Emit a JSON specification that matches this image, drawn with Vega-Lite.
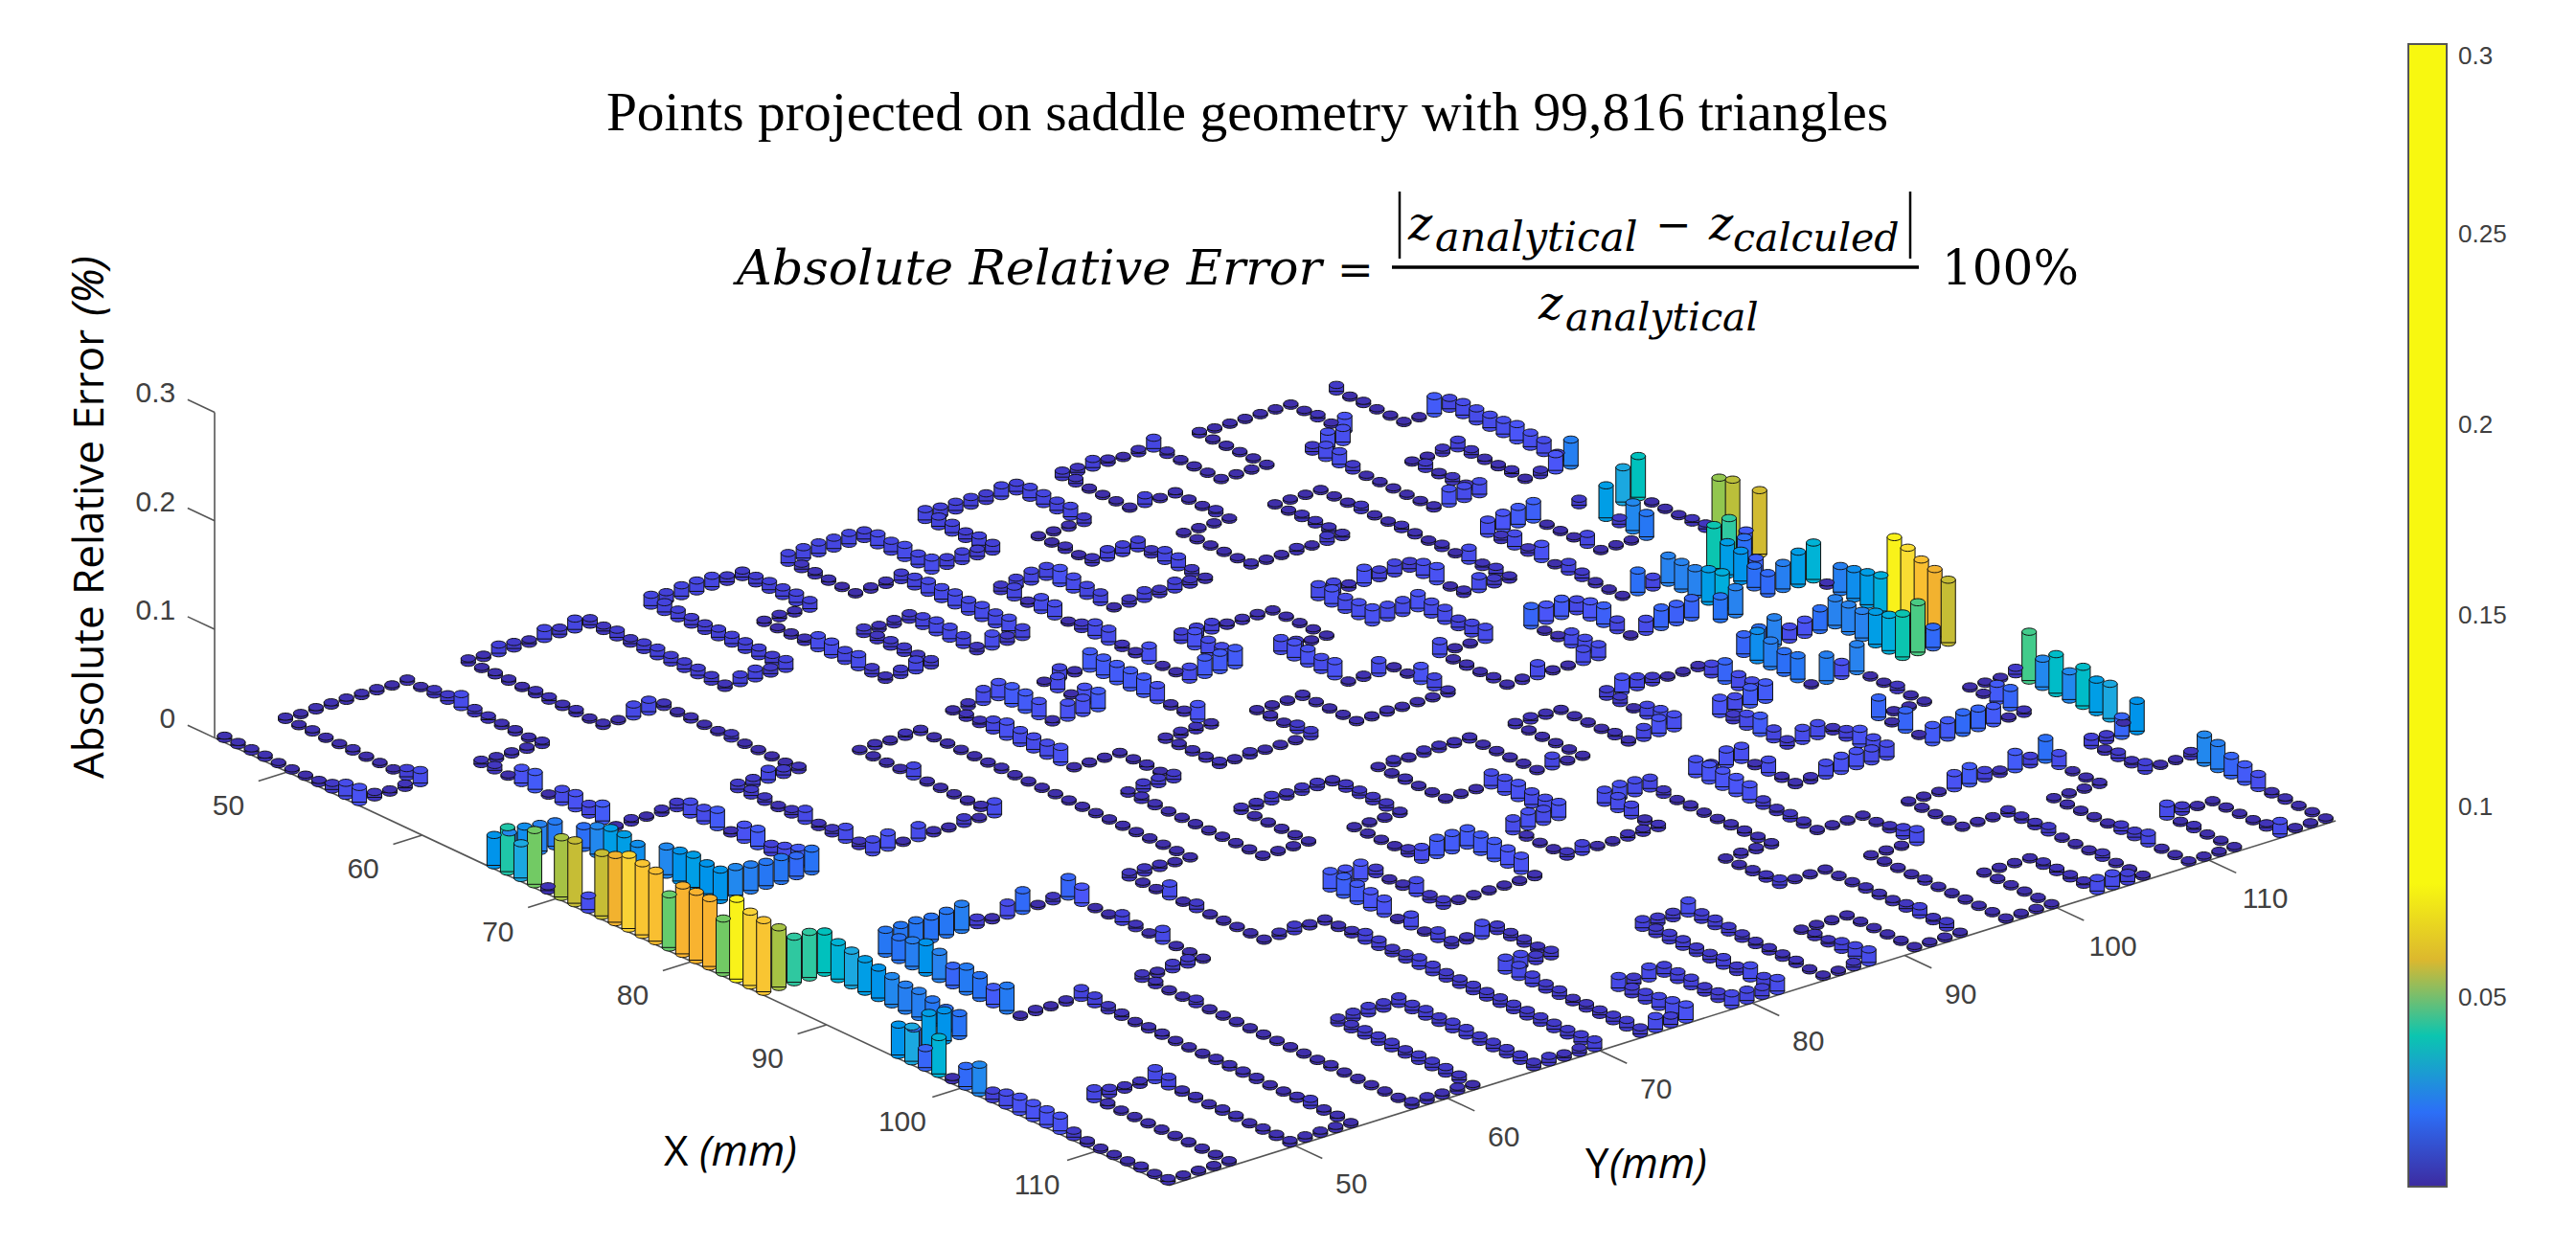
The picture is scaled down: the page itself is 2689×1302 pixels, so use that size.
{"$schema":"https://vega.github.io/schema/vega-lite/v6.json","width":2689,"height":1302,"padding":0,"autosize":{"type":"fit","contains":"padding"},"background":"white","config":{"view":{"stroke":null}},
"datasets":{
"frame":[
{"x":44.6,"y":41.7,"z":0,"x2":115.4,"y2":41.7,"z2":0},{"x":115.4,"y":41.7,"z":0,"x2":115.4,"y2":118.3,"z2":0},{"x":44.6,"y":41.7,"z":0,"x2":44.6,"y2":41.7,"z2":0.3},
{"x":50,"y":41.7,"z":0,"x2":50,"y2":39.8,"z2":0},{"x":60,"y":41.7,"z":0,"x2":60,"y2":39.8,"z2":0},{"x":70,"y":41.7,"z":0,"x2":70,"y2":39.8,"z2":0},{"x":80,"y":41.7,"z":0,"x2":80,"y2":39.8,"z2":0},{"x":90,"y":41.7,"z":0,"x2":90,"y2":39.8,"z2":0},{"x":100,"y":41.7,"z":0,"x2":100,"y2":39.8,"z2":0},{"x":110,"y":41.7,"z":0,"x2":110,"y2":39.8,"z2":0},
{"x":115.4,"y":50,"z":0,"x2":117.4,"y2":50,"z2":0},{"x":115.4,"y":60,"z":0,"x2":117.4,"y2":60,"z2":0},{"x":115.4,"y":70,"z":0,"x2":117.4,"y2":70,"z2":0},{"x":115.4,"y":80,"z":0,"x2":117.4,"y2":80,"z2":0},{"x":115.4,"y":90,"z":0,"x2":117.4,"y2":90,"z2":0},{"x":115.4,"y":100,"z":0,"x2":117.4,"y2":100,"z2":0},{"x":115.4,"y":110,"z":0,"x2":117.4,"y2":110,"z2":0},
{"x":44.6,"y":41.7,"z":0,"x2":42.6,"y2":41.7,"z2":0},{"x":44.6,"y":41.7,"z":0.1,"x2":42.6,"y2":41.7,"z2":0.1},{"x":44.6,"y":41.7,"z":0.2,"x2":42.6,"y2":41.7,"z2":0.2},{"x":44.6,"y":41.7,"z":0.3,"x2":42.6,"y2":41.7,"z2":0.3}],
"labels":[
{"x":51.5,"y":36.5,"z":0,"t":"50"},{"x":61.5,"y":36.5,"z":0,"t":"60"},{"x":71.5,"y":36.5,"z":0,"t":"70"},{"x":81.5,"y":36.5,"z":0,"t":"80"},{"x":91.5,"y":36.5,"z":0,"t":"90"},{"x":101.5,"y":36.5,"z":0,"t":"100"},{"x":111.5,"y":36.5,"z":0,"t":"110"},
{"x":120.8,"y":48.9,"z":0,"t":"50"},{"x":120.8,"y":58.9,"z":0,"t":"60"},{"x":120.8,"y":68.9,"z":0,"t":"70"},{"x":120.8,"y":78.9,"z":0,"t":"80"},{"x":120.8,"y":88.9,"z":0,"t":"90"},{"x":120.8,"y":98.9,"z":0,"t":"100"},{"x":120.8,"y":108.9,"z":0,"t":"110"}],
"zlabels":[{"x":41.7,"y":41.7,"z":0,"t":"0"},{"x":41.7,"y":41.7,"z":0.1,"t":"0.1"},{"x":41.7,"y":41.7,"z":0.2,"t":"0.2"},{"x":41.7,"y":41.7,"z":0.3,"t":"0.3"}],
"pts":[
{"x":45,"y":42,"z":0.003},{"x":46,"y":42,"z":0.003},{"x":47,"y":42,"z":0.003},{"x":48,"y":42,"z":0.003},{"x":49,"y":42,"z":0.002},{"x":50,"y":42,"z":0.002},{"x":51,"y":42,"z":0.002},{"x":52,"y":42,"z":0.003},{"x":53,"y":42,"z":0.006},{"x":54,"y":42,"z":0.012},{"x":55,"y":42,"z":0.014},
{"x":55,"y":43,"z":0.005},{"x":55,"y":44,"z":0.003},{"x":55,"y":45,"z":0.004},{"x":55,"y":46,"z":0.012},
{"x":54,"y":46,"z":0.008},{"x":53,"y":46,"z":0.002},{"x":52,"y":46,"z":0.002},{"x":51,"y":46,"z":0.002},{"x":50,"y":46,"z":0.003},{"x":49,"y":46,"z":0.002},{"x":48,"y":46,"z":0.002},{"x":47,"y":46,"z":0.003},{"x":46,"y":46,"z":0.002},{"x":45,"y":46,"z":0.003},
{"x":45,"y":47,"z":0.002},{"x":45,"y":48,"z":0.003},{"x":45,"y":49,"z":0.003},{"x":45,"y":50,"z":0.003},{"x":45,"y":51,"z":0.003},{"x":45,"y":52,"z":0.003},{"x":45,"y":53,"z":0.002},{"x":45,"y":54,"z":0.003},
{"x":46,"y":54,"z":0.002},{"x":47,"y":54,"z":0.005},{"x":48,"y":54,"z":0.006},{"x":49,"y":54,"z":0.012},{"x":50,"y":54,"z":0.005},{"x":51,"y":54,"z":0.004},{"x":52,"y":54,"z":0.003},{"x":53,"y":54,"z":0.003},{"x":54,"y":54,"z":0.002},{"x":55,"y":54,"z":0.004},
{"x":55,"y":53,"z":0.003},{"x":55,"y":52,"z":0.003},{"x":55,"y":51,"z":0.003},{"x":55,"y":50,"z":0.004},
{"x":56,"y":50,"z":0.005},{"x":57,"y":50,"z":0.002},{"x":58,"y":50,"z":0.014},{"x":59,"y":50,"z":0.016},{"x":60,"y":50,"z":0.002},{"x":61,"y":50,"z":0.012},{"x":62,"y":50,"z":0.014},{"x":63,"y":50,"z":0.01},{"x":64,"y":50,"z":0.016},{"x":65,"y":50,"z":0.002},
{"x":65,"y":51,"z":0.004},{"x":65,"y":52,"z":0.002},{"x":65,"y":53,"z":0.004},{"x":65,"y":54,"z":0.006},
{"x":66,"y":54,"z":0.012},{"x":67,"y":54,"z":0.012},{"x":68,"y":54,"z":0.016},{"x":69,"y":54,"z":0.003},{"x":70,"y":54,"z":0.014},{"x":71,"y":54,"z":0.016},{"x":72,"y":54,"z":0.008},{"x":73,"y":54,"z":0.012},{"x":74,"y":54,"z":0.016},{"x":75,"y":54,"z":0.021},
{"x":75,"y":53,"z":0.019},{"x":75,"y":52,"z":0.022},{"x":75,"y":51,"z":0.022},{"x":75,"y":50,"z":0.024},{"x":75,"y":49,"z":0.026},{"x":75,"y":48,"z":0.028},
{"x":74,"y":48,"z":0.028},{"x":73,"y":48,"z":0.03},{"x":72,"y":48,"z":0.028},{"x":71,"y":48,"z":0.026},{"x":70,"y":47,"z":0.027},{"x":69,"y":47,"z":0.03},{"x":68,"y":47,"z":0.03},{"x":67,"y":47,"z":0.026},{"x":66,"y":47,"z":0.02},
{"x":65,"y":46,"z":0.023},{"x":65,"y":45,"z":0.025},{"x":65,"y":44,"z":0.027},{"x":65,"y":43,"z":0.026},
{"x":65,"y":42,"z":0.028},{"x":66,"y":42,"z":0.041},{"x":67,"y":42,"z":0.032},{"x":68,"y":42,"z":0.05},{"x":69,"y":42,"z":0.004},{"x":70,"y":42,"z":0.055},{"x":71,"y":42,"z":0.058},{"x":72,"y":42,"z":0.013},{"x":73,"y":42,"z":0.058},{"x":74,"y":42,"z":0.062},{"x":75,"y":42,"z":0.068},{"x":76,"y":42,"z":0.066},{"x":77,"y":42,"z":0.065},{"x":78,"y":42,"z":0.049},{"x":79,"y":42,"z":0.063},{"x":80,"y":42,"z":0.063},{"x":81,"y":42,"z":0.063},{"x":82,"y":42,"z":0.05},{"x":83,"y":42,"z":0.074},{"x":84,"y":42,"z":0.068},{"x":85,"y":42,"z":0.066},
{"x":85,"y":43,"z":0.055},{"x":85,"y":44,"z":0.042},{"x":85,"y":45,"z":0.042},{"x":85,"y":46,"z":0.038},
{"x":86,"y":46,"z":0.034},{"x":87,"y":46,"z":0.032},{"x":88,"y":46,"z":0.03},{"x":89,"y":46,"z":0.028},{"x":90,"y":46,"z":0.026},{"x":91,"y":46,"z":0.024},{"x":92,"y":46,"z":0.024},{"x":93,"y":46,"z":0.022},{"x":94,"y":46,"z":0.02},{"x":95,"y":46,"z":0.021},
{"x":95,"y":45,"z":0.028},{"x":95,"y":44,"z":0.03},{"x":95,"y":43,"z":0.02},{"x":95,"y":42,"z":0.028},{"x":96,"y":42,"z":0.032},{"x":97,"y":42,"z":0.018},{"x":98,"y":42,"z":0.034},{"x":99,"y":42,"z":0.003},{"x":100,"y":42,"z":0.019},{"x":101,"y":42,"z":0.026},{"x":102,"y":42,"z":0.008},{"x":103,"y":42,"z":0.012},{"x":104,"y":42,"z":0.014},{"x":105,"y":42,"z":0.014},{"x":106,"y":42,"z":0.014},{"x":107,"y":42,"z":0.014},{"x":108,"y":42,"z":0.006},{"x":109,"y":42,"z":0.003},{"x":110,"y":42,"z":0.002},{"x":111,"y":42,"z":0.002},{"x":112,"y":42,"z":0.002},{"x":113,"y":42,"z":0.003},{"x":114,"y":42,"z":0.002},{"x":115,"y":42,"z":0.003},
{"x":115,"y":43,"z":0.002},{"x":115,"y":44,"z":0.002},{"x":115,"y":45,"z":0.002},{"x":115,"y":46,"z":0.002},
{"x":114,"y":46,"z":0.002},{"x":113,"y":46,"z":0.002},{"x":112,"y":46,"z":0.002},{"x":111,"y":46,"z":0.002},{"x":110,"y":46,"z":0.002},{"x":109,"y":46,"z":0.002},{"x":108,"y":46,"z":0.002},{"x":107,"y":46,"z":0.002},{"x":106,"y":46,"z":0.003},{"x":105,"y":46,"z":0.01},
{"x":105,"y":47,"z":0.006},{"x":105,"y":48,"z":0.004},{"x":105,"y":49,"z":0.004},{"x":105,"y":50,"z":0.011},
{"x":106,"y":50,"z":0.009},{"x":107,"y":50,"z":0.003},{"x":108,"y":50,"z":0.003},{"x":109,"y":50,"z":0.002},{"x":110,"y":50,"z":0.003},{"x":111,"y":50,"z":0.003},{"x":112,"y":50,"z":0.002},{"x":113,"y":50,"z":0.003},{"x":114,"y":50,"z":0.003},{"x":115,"y":50,"z":0.003},
{"x":115,"y":51,"z":0.003},{"x":115,"y":52,"z":0.003},{"x":115,"y":53,"z":0.003},{"x":115,"y":54,"z":0.002},
{"x":114,"y":54,"z":0.003},{"x":113,"y":54,"z":0.003},{"x":112,"y":54,"z":0.006},{"x":111,"y":54,"z":0.003},{"x":110,"y":54,"z":0.002},{"x":109,"y":54,"z":0.002},{"x":108,"y":54,"z":0.003},{"x":107,"y":54,"z":0.003},{"x":106,"y":54,"z":0.003},{"x":105,"y":54,"z":0.003},{"x":104,"y":54,"z":0.002},{"x":103,"y":54,"z":0.002},{"x":102,"y":54,"z":0.002},{"x":101,"y":54,"z":0.003},{"x":100,"y":54,"z":0.003},{"x":99,"y":54,"z":0.002},{"x":98,"y":54,"z":0.004},{"x":97,"y":54,"z":0.005},{"x":96,"y":54,"z":0.008},{"x":95,"y":54,"z":0.009},
{"x":95,"y":53,"z":0.003},{"x":95,"y":52,"z":0.002},{"x":95,"y":51,"z":0.003},{"x":95,"y":50,"z":0.002},
{"x":94,"y":50,"z":0.023},{"x":93,"y":50,"z":0.016},{"x":92,"y":50,"z":0.021},{"x":91,"y":50,"z":0.023},{"x":90,"y":50,"z":0.018},{"x":89,"y":50,"z":0.025},{"x":88,"y":50,"z":0.028},{"x":87,"y":50,"z":0.024},{"x":86,"y":50,"z":0.021},{"x":85,"y":50,"z":0.022},
{"x":85,"y":51,"z":0.022},{"x":85,"y":52,"z":0.022},{"x":85,"y":53,"z":0.021},{"x":85,"y":54,"z":0.022},{"x":85,"y":55,"z":0.024},{"x":85,"y":56,"z":0.007},{"x":85,"y":57,"z":0.003},{"x":85,"y":58,"z":0.012},{"x":85,"y":59,"z":0.019},{"x":85,"y":60,"z":0.002},{"x":85,"y":61,"z":0.005},{"x":85,"y":62,"z":0.018},
{"x":86,"y":62,"z":0.015},{"x":87,"y":62,"z":0.002},{"x":88,"y":62,"z":0.002},{"x":89,"y":62,"z":0.008},{"x":90,"y":62,"z":0.004},{"x":91,"y":62,"z":0.002},{"x":92,"y":62,"z":0.011},{"x":93,"y":62,"z":0.002},{"x":94,"y":62,"z":0.002},{"x":95,"y":62,"z":0.002},
{"x":95,"y":61,"z":0.006},{"x":95,"y":60,"z":0.006},{"x":95,"y":59,"z":0.003},{"x":95,"y":58,"z":0.005},
{"x":96,"y":58,"z":0.004},{"x":97,"y":58,"z":0.002},{"x":98,"y":58,"z":0.002},{"x":99,"y":58,"z":0.005},{"x":100,"y":58,"z":0.002},{"x":101,"y":58,"z":0.002},{"x":102,"y":58,"z":0.002},{"x":103,"y":58,"z":0.002},{"x":104,"y":58,"z":0.002},{"x":105,"y":58,"z":0.002},{"x":106,"y":58,"z":0.002},{"x":107,"y":58,"z":0.002},{"x":108,"y":58,"z":0.002},{"x":109,"y":58,"z":0.003},{"x":110,"y":58,"z":0.002},{"x":111,"y":58,"z":0.002},{"x":112,"y":58,"z":0.002},{"x":113,"y":58,"z":0.002},{"x":114,"y":58,"z":0.002},{"x":115,"y":58,"z":0.004},
{"x":115,"y":59,"z":0.004},{"x":115,"y":60,"z":0.003},{"x":115,"y":61,"z":0.004},{"x":115,"y":62,"z":0.002},
{"x":114,"y":62,"z":0.005},{"x":113,"y":62,"z":0.006},{"x":112,"y":62,"z":0.006},{"x":111,"y":62,"z":0.006},{"x":110,"y":62,"z":0.005},{"x":109,"y":62,"z":0.006},{"x":108,"y":62,"z":0.006},{"x":107,"y":62,"z":0.006},{"x":106,"y":62,"z":0.005},{"x":105,"y":62,"z":0.005},
{"x":105,"y":63,"z":0.006},{"x":105,"y":64,"z":0.007},{"x":105,"y":65,"z":0.006},{"x":105,"y":66,"z":0.007},
{"x":106,"y":66,"z":0.006},{"x":107,"y":66,"z":0.007},{"x":108,"y":66,"z":0.006},{"x":109,"y":66,"z":0.007},{"x":110,"y":66,"z":0.007},{"x":111,"y":66,"z":0.006},{"x":112,"y":66,"z":0.006},{"x":113,"y":66,"z":0.006},{"x":114,"y":66,"z":0.006},{"x":115,"y":66,"z":0.005},
{"x":115,"y":67,"z":0.006},{"x":115,"y":68,"z":0.004},{"x":115,"y":69,"z":0.005},{"x":115,"y":70,"z":0.008},
{"x":114,"y":70,"z":0.007},{"x":113,"y":70,"z":0.006},{"x":112,"y":70,"z":0.006},{"x":111,"y":70,"z":0.006},{"x":110,"y":70,"z":0.006},{"x":109,"y":70,"z":0.006},{"x":108,"y":70,"z":0.006},{"x":107,"y":70,"z":0.006},{"x":106,"y":70,"z":0.006},{"x":105,"y":70,"z":0.006},{"x":104,"y":70,"z":0.006},{"x":103,"y":70,"z":0.007},{"x":102,"y":70,"z":0.008},{"x":101,"y":70,"z":0.006},{"x":100,"y":70,"z":0.005},{"x":99,"y":70,"z":0.007},{"x":98,"y":70,"z":0.008},{"x":97,"y":70,"z":0.004},{"x":96,"y":70,"z":0.003},{"x":95,"y":70,"z":0.003},
{"x":95,"y":69,"z":0.003},{"x":95,"y":68,"z":0.006},{"x":95,"y":67,"z":0.004},{"x":95,"y":66,"z":0.002},
{"x":94,"y":66,"z":0.002},{"x":93,"y":66,"z":0.002},{"x":92,"y":66,"z":0.002},{"x":91,"y":66,"z":0.002},{"x":90,"y":66,"z":0.006},{"x":89,"y":66,"z":0.002},{"x":88,"y":66,"z":0.012},{"x":87,"y":66,"z":0.002},{"x":86,"y":66,"z":0.002},{"x":85,"y":66,"z":0.005},
{"x":85,"y":67,"z":0.005},{"x":85,"y":68,"z":0.004},{"x":85,"y":69,"z":0.002},{"x":85,"y":70,"z":0.002},
{"x":84,"y":70,"z":0.002},{"x":83,"y":70,"z":0.002},{"x":82,"y":70,"z":0.002},{"x":81,"y":70,"z":0.002},{"x":80,"y":70,"z":0.002},{"x":79,"y":70,"z":0.002},{"x":78,"y":70,"z":0.002},{"x":77,"y":70,"z":0.002},{"x":76,"y":70,"z":0.002},{"x":75,"y":70,"z":0.002},{"x":74,"y":70,"z":0.002},{"x":73,"y":70,"z":0.002},{"x":72,"y":70,"z":0.002},{"x":71,"y":70,"z":0.003},{"x":70,"y":70,"z":0.002},{"x":69,"y":70,"z":0.002},{"x":68,"y":70,"z":0.002},{"x":67,"y":70,"z":0.002},{"x":66,"y":70,"z":0.002},{"x":65,"y":70,"z":0.003},
{"x":65,"y":69,"z":0.004},{"x":65,"y":68,"z":0.002},{"x":65,"y":67,"z":0.003},{"x":65,"y":66,"z":0.002},
{"x":66,"y":66,"z":0.002},{"x":67,"y":66,"z":0.002},{"x":68,"y":66,"z":0.002},{"x":69,"y":66,"z":0.01},{"x":70,"y":66,"z":0.002},{"x":71,"y":66,"z":0.002},{"x":72,"y":66,"z":0.002},{"x":73,"y":66,"z":0.002},{"x":74,"y":66,"z":0.003},{"x":75,"y":66,"z":0.012},
{"x":75,"y":65,"z":0.002},{"x":75,"y":64,"z":0.006},{"x":75,"y":63,"z":0.002},{"x":75,"y":62,"z":0.003},{"x":75,"y":61,"z":0.012},{"x":75,"y":60,"z":0.002},{"x":75,"y":59,"z":0.014},{"x":75,"y":58,"z":0.012},
{"x":74,"y":58,"z":0.005},{"x":73,"y":58,"z":0.012},{"x":72,"y":58,"z":0.005},{"x":71,"y":58,"z":0.004},{"x":70,"y":58,"z":0.011},{"x":69,"y":58,"z":0.005},{"x":68,"y":58,"z":0.003},{"x":67,"y":58,"z":0.005},{"x":66,"y":58,"z":0.006},{"x":65,"y":58,"z":0.006},
{"x":65,"y":59,"z":0.006},{"x":65,"y":60,"z":0.01},{"x":65,"y":61,"z":0.006},{"x":65,"y":62,"z":0.004},
{"x":64,"y":62,"z":0.002},{"x":63,"y":62,"z":0.002},{"x":62,"y":62,"z":0.002},{"x":61,"y":62,"z":0.002},{"x":60,"y":62,"z":0.005},{"x":59,"y":62,"z":0.002},{"x":58,"y":62,"z":0.002},{"x":57,"y":62,"z":0.003},{"x":56,"y":62,"z":0.002},{"x":55,"y":62,"z":0.004},
{"x":55,"y":61,"z":0.011},{"x":55,"y":60,"z":0.011},{"x":55,"y":59,"z":0.002},{"x":55,"y":58,"z":0.003},
{"x":54,"y":58,"z":0.002},{"x":53,"y":58,"z":0.004},{"x":52,"y":58,"z":0.003},{"x":51,"y":58,"z":0.004},{"x":50,"y":58,"z":0.004},{"x":49,"y":58,"z":0.002},{"x":48,"y":58,"z":0.003},{"x":47,"y":58,"z":0.003},{"x":46,"y":58,"z":0.002},{"x":45,"y":58,"z":0.004},
{"x":45,"y":59,"z":0.003},{"x":45,"y":60,"z":0.008},{"x":45,"y":61,"z":0.006},{"x":45,"y":62,"z":0.004},{"x":45,"y":63,"z":0.01},{"x":45,"y":64,"z":0.006},{"x":45,"y":65,"z":0.01},{"x":45,"y":66,"z":0.006},
{"x":46,"y":66,"z":0.005},{"x":47,"y":66,"z":0.007},{"x":48,"y":66,"z":0.005},{"x":49,"y":66,"z":0.007},{"x":50,"y":66,"z":0.008},{"x":51,"y":66,"z":0.007},{"x":52,"y":66,"z":0.007},{"x":53,"y":66,"z":0.007},{"x":54,"y":66,"z":0.006},{"x":55,"y":66,"z":0.004},
{"x":55,"y":67,"z":0.008},{"x":55,"y":68,"z":0.009},{"x":55,"y":69,"z":0.006},{"x":55,"y":70,"z":0.009},
{"x":54,"y":70,"z":0.007},{"x":53,"y":70,"z":0.008},{"x":52,"y":70,"z":0.008},{"x":51,"y":70,"z":0.008},{"x":50,"y":70,"z":0.008},{"x":49,"y":70,"z":0.007},{"x":48,"y":70,"z":0.007},{"x":47,"y":70,"z":0.008},{"x":46,"y":70,"z":0.009},{"x":45,"y":70,"z":0.01},
{"x":45,"y":71,"z":0.008},{"x":45,"y":72,"z":0.01},{"x":45,"y":73,"z":0.01},{"x":45,"y":74,"z":0.01},{"x":45,"y":75,"z":0.006},{"x":45,"y":76,"z":0.006},
{"x":46,"y":76,"z":0.007},{"x":47,"y":76,"z":0.008},{"x":48,"y":76,"z":0.008},{"x":49,"y":76,"z":0.009},{"x":50,"y":76,"z":0.008},
{"x":50,"y":75,"z":0.003},{"x":50,"y":74,"z":0.004},{"x":50,"y":73,"z":0.003},
{"x":51,"y":73,"z":0.002},{"x":52,"y":73,"z":0.003},{"x":53,"y":73,"z":0.004},{"x":54,"y":73,"z":0.012},{"x":55,"y":73,"z":0.012},{"x":56,"y":73,"z":0.01},{"x":57,"y":73,"z":0.012},{"x":58,"y":73,"z":0.006},{"x":59,"y":73,"z":0.004},
{"x":59,"y":74,"z":0.006},{"x":59,"y":75,"z":0.01},{"x":59,"y":76,"z":0.006},
{"x":58,"y":76,"z":0.005},{"x":57,"y":76,"z":0.006},{"x":56,"y":76,"z":0.006},{"x":55,"y":76,"z":0.005},{"x":54,"y":76,"z":0.006},
{"x":54,"y":77,"z":0.004},{"x":54,"y":78,"z":0.005},{"x":54,"y":79,"z":0.006},
{"x":55,"y":79,"z":0.009},{"x":56,"y":79,"z":0.011},{"x":57,"y":79,"z":0.011},{"x":58,"y":79,"z":0.009},{"x":59,"y":79,"z":0.005},
{"x":59,"y":80,"z":0.012},{"x":59,"y":81,"z":0.006},{"x":59,"y":82,"z":0.009},
{"x":58,"y":82,"z":0.012},{"x":57,"y":82,"z":0.011},{"x":56,"y":82,"z":0.012},{"x":55,"y":82,"z":0.011},{"x":54,"y":82,"z":0.012},{"x":53,"y":82,"z":0.011},{"x":52,"y":82,"z":0.011},{"x":51,"y":82,"z":0.009},{"x":50,"y":82,"z":0.007},
{"x":50,"y":81,"z":0.004},{"x":50,"y":80,"z":0.003},{"x":50,"y":79,"z":0.002},
{"x":49,"y":79,"z":0.002},{"x":48,"y":79,"z":0.003},{"x":47,"y":79,"z":0.004},{"x":46,"y":79,"z":0.005},{"x":45,"y":79,"z":0.009},
{"x":45,"y":80,"z":0.01},{"x":45,"y":81,"z":0.01},{"x":45,"y":82,"z":0.01},{"x":45,"y":83,"z":0.01},{"x":45,"y":84,"z":0.008},
{"x":46,"y":84,"z":0.011},{"x":47,"y":84,"z":0.01},{"x":48,"y":84,"z":0.012},{"x":49,"y":84,"z":0.01},{"x":50,"y":84,"z":0.012},
{"x":50,"y":85,"z":0.008},{"x":50,"y":86,"z":0.009},{"x":50,"y":87,"z":0.007},{"x":50,"y":88,"z":0.008},
{"x":49,"y":88,"z":0.009},{"x":48,"y":88,"z":0.007},{"x":47,"y":88,"z":0.009},{"x":46,"y":88,"z":0.009},{"x":45,"y":88,"z":0.01},
{"x":45,"y":89,"z":0.008},{"x":45,"y":90,"z":0.008},{"x":45,"y":91,"z":0.008},{"x":45,"y":92,"z":0.007},{"x":45,"y":93,"z":0.01},{"x":45,"y":94,"z":0.008},
{"x":46,"y":94,"z":0.01},{"x":47,"y":94,"z":0.01},{"x":48,"y":94,"z":0.009},{"x":49,"y":94,"z":0.01},{"x":50,"y":94,"z":0.006},
{"x":50,"y":93,"z":0.003},{"x":50,"y":92,"z":0.002},{"x":50,"y":91,"z":0.002},
{"x":51,"y":91,"z":0.002},{"x":52,"y":91,"z":0.004},{"x":53,"y":91,"z":0.002},{"x":54,"y":91,"z":0.005},
{"x":54,"y":92,"z":0.008},{"x":54,"y":93,"z":0.008},{"x":54,"y":94,"z":0.008},
{"x":55,"y":94,"z":0.005},{"x":56,"y":94,"z":0.01},{"x":57,"y":94,"z":0.01},{"x":58,"y":94,"z":0.005},{"x":59,"y":94,"z":0.003},
{"x":59,"y":93,"z":0.005},{"x":59,"y":92,"z":0.008},{"x":59,"y":91,"z":0.005},{"x":59,"y":90,"z":0.008},{"x":59,"y":89,"z":0.005},{"x":59,"y":88,"z":0.002},
{"x":58,"y":88,"z":0.009},{"x":57,"y":88,"z":0.01},{"x":56,"y":88,"z":0.012},{"x":55,"y":88,"z":0.014},{"x":54,"y":88,"z":0.01},
{"x":54,"y":87,"z":0.01},{"x":54,"y":86,"z":0.008},{"x":54,"y":85,"z":0.006},
{"x":55,"y":85,"z":0.01},{"x":56,"y":85,"z":0.003},{"x":57,"y":85,"z":0.012},{"x":58,"y":85,"z":0.012},{"x":59,"y":85,"z":0.002},{"x":60,"y":85,"z":0.006},{"x":61,"y":85,"z":0.012},{"x":62,"y":85,"z":0.012},{"x":63,"y":85,"z":0.004},{"x":64,"y":85,"z":0.003},{"x":65,"y":85,"z":0.014},{"x":66,"y":85,"z":0.002},{"x":67,"y":85,"z":0.002},{"x":68,"y":85,"z":0.012},
{"x":68,"y":86,"z":0.016},{"x":68,"y":87,"z":0.016},{"x":68,"y":88,"z":0.016},
{"x":67,"y":88,"z":0.012},{"x":66,"y":88,"z":0.012},{"x":65,"y":88,"z":0.014},{"x":64,"y":88,"z":0.008},
{"x":64,"y":89,"z":0.008},{"x":64,"y":90,"z":0.008},{"x":64,"y":91,"z":0.003},{"x":64,"y":92,"z":0.003},{"x":64,"y":93,"z":0.003},{"x":64,"y":94,"z":0.002},
{"x":65,"y":94,"z":0.002},{"x":66,"y":94,"z":0.002},{"x":67,"y":94,"z":0.002},{"x":68,"y":94,"z":0.002},
{"x":68,"y":93,"z":0.002},{"x":68,"y":92,"z":0.006},{"x":68,"y":91,"z":0.012},
{"x":69,"y":91,"z":0.014},{"x":70,"y":91,"z":0.014},{"x":71,"y":91,"z":0.012},{"x":72,"y":91,"z":0.014},{"x":73,"y":91,"z":0.002},
{"x":73,"y":92,"z":0.003},{"x":73,"y":93,"z":0.012},{"x":73,"y":94,"z":0.002},
{"x":74,"y":94,"z":0.002},{"x":75,"y":94,"z":0.014},{"x":76,"y":94,"z":0.01},{"x":77,"y":94,"z":0.004},
{"x":77,"y":93,"z":0.002},{"x":77,"y":92,"z":0.002},{"x":77,"y":91,"z":0.002},{"x":77,"y":90,"z":0.003},{"x":77,"y":89,"z":0.002},{"x":77,"y":88,"z":0.002},
{"x":76,"y":88,"z":0.002},{"x":75,"y":88,"z":0.002},{"x":74,"y":88,"z":0.002},{"x":73,"y":88,"z":0.003},
{"x":73,"y":87,"z":0.002},{"x":73,"y":86,"z":0.002},{"x":73,"y":85,"z":0.002},
{"x":74,"y":85,"z":0.003},{"x":75,"y":85,"z":0.002},{"x":76,"y":85,"z":0.006},{"x":77,"y":85,"z":0.006},
{"x":77,"y":84,"z":0.002},{"x":77,"y":83,"z":0.002},{"x":77,"y":82,"z":0.002},{"x":77,"y":81,"z":0.004},{"x":77,"y":80,"z":0.002},{"x":77,"y":79,"z":0.004},
{"x":76,"y":79,"z":0.003},{"x":75,"y":79,"z":0.003},{"x":74,"y":79,"z":0.003},{"x":73,"y":79,"z":0.003},
{"x":73,"y":80,"z":0.004},{"x":73,"y":81,"z":0.004},{"x":73,"y":82,"z":0.003},
{"x":72,"y":82,"z":0.014},{"x":71,"y":82,"z":0.003},{"x":70,"y":82,"z":0.003},{"x":69,"y":82,"z":0.014},{"x":68,"y":82,"z":0.016},{"x":67,"y":82,"z":0.016},{"x":66,"y":82,"z":0.016},{"x":65,"y":82,"z":0.016},{"x":64,"y":82,"z":0.016},
{"x":64,"y":81,"z":0.003},{"x":64,"y":80,"z":0.01},{"x":64,"y":79,"z":0.002},
{"x":65,"y":79,"z":0.012},{"x":66,"y":79,"z":0.002},{"x":67,"y":79,"z":0.014},{"x":68,"y":79,"z":0.016},
{"x":68,"y":78,"z":0.014},{"x":68,"y":77,"z":0.014},{"x":68,"y":76,"z":0.003},
{"x":67,"y":76,"z":0.014},{"x":66,"y":76,"z":0.016},{"x":65,"y":76,"z":0.016},{"x":64,"y":76,"z":0.014},
{"x":64,"y":75,"z":0.012},{"x":64,"y":74,"z":0.004},{"x":64,"y":73,"z":0.002},
{"x":65,"y":73,"z":0.004},{"x":66,"y":73,"z":0.004},{"x":67,"y":73,"z":0.01},{"x":68,"y":73,"z":0.014},{"x":69,"y":73,"z":0.012},{"x":70,"y":73,"z":0.012},{"x":71,"y":73,"z":0.012},{"x":72,"y":73,"z":0.014},{"x":73,"y":73,"z":0.002},
{"x":73,"y":74,"z":0.002},{"x":73,"y":75,"z":0.002},{"x":73,"y":76,"z":0.002},
{"x":74,"y":76,"z":0.002},{"x":75,"y":76,"z":0.003},{"x":76,"y":76,"z":0.002},{"x":77,"y":76,"z":0.006},
{"x":77,"y":75,"z":0.006},{"x":77,"y":74,"z":0.006},{"x":77,"y":73,"z":0.003},
{"x":78,"y":73,"z":0.004},{"x":79,"y":73,"z":0.003},{"x":80,"y":73,"z":0.002},{"x":81,"y":73,"z":0.002},{"x":82,"y":73,"z":0.002},{"x":83,"y":73,"z":0.002},{"x":84,"y":73,"z":0.002},{"x":85,"y":73,"z":0.002},{"x":86,"y":73,"z":0.002},{"x":87,"y":73,"z":0.002},
{"x":87,"y":74,"z":0.002},{"x":87,"y":75,"z":0.002},{"x":87,"y":76,"z":0.002},
{"x":86,"y":76,"z":0.002},{"x":85,"y":76,"z":0.002},{"x":84,"y":76,"z":0.002},{"x":83,"y":76,"z":0.002},{"x":82,"y":76,"z":0.004},
{"x":82,"y":77,"z":0.004},{"x":82,"y":78,"z":0.006},{"x":82,"y":79,"z":0.004},{"x":82,"y":80,"z":0.005},{"x":82,"y":81,"z":0.005},{"x":82,"y":82,"z":0.003},
{"x":83,"y":82,"z":0.005},{"x":84,"y":82,"z":0.005},{"x":85,"y":82,"z":0.005},{"x":86,"y":82,"z":0.005},{"x":87,"y":82,"z":0.003},
{"x":87,"y":81,"z":0.002},{"x":87,"y":80,"z":0.002},{"x":87,"y":79,"z":0.002},
{"x":88,"y":79,"z":0.002},{"x":89,"y":79,"z":0.002},{"x":90,"y":79,"z":0.002},{"x":91,"y":79,"z":0.005},{"x":92,"y":79,"z":0.012},
{"x":92,"y":80,"z":0.016},{"x":92,"y":81,"z":0.016},{"x":92,"y":82,"z":0.016},
{"x":93,"y":82,"z":0.016},{"x":94,"y":82,"z":0.016},{"x":95,"y":82,"z":0.015},{"x":96,"y":82,"z":0.014},{"x":97,"y":82,"z":0.003},
{"x":97,"y":81,"z":0.002},{"x":97,"y":80,"z":0.002},{"x":97,"y":79,"z":0.002},{"x":97,"y":78,"z":0.002},{"x":97,"y":77,"z":0.002},{"x":97,"y":76,"z":0.006},
{"x":96,"y":76,"z":0.005},{"x":95,"y":76,"z":0.012},{"x":94,"y":76,"z":0.003},{"x":93,"y":76,"z":0.002},{"x":92,"y":76,"z":0.006},
{"x":92,"y":75,"z":0.015},{"x":92,"y":74,"z":0.014},{"x":92,"y":73,"z":0.016},
{"x":93,"y":73,"z":0.017},{"x":94,"y":73,"z":0.016},{"x":95,"y":73,"z":0.015},{"x":96,"y":73,"z":0.014},{"x":97,"y":73,"z":0.002},{"x":98,"y":73,"z":0.011},{"x":99,"y":73,"z":0.002},{"x":100,"y":73,"z":0.008},{"x":101,"y":73,"z":0.005},
{"x":101,"y":74,"z":0.004},{"x":101,"y":75,"z":0.012},{"x":101,"y":76,"z":0.006},
{"x":102,"y":76,"z":0.005},{"x":103,"y":76,"z":0.005},{"x":104,"y":76,"z":0.004},{"x":105,"y":76,"z":0.006},
{"x":105,"y":75,"z":0.006},{"x":105,"y":74,"z":0.011},{"x":105,"y":73,"z":0.012},
{"x":106,"y":73,"z":0.011},{"x":107,"y":73,"z":0.008},{"x":108,"y":73,"z":0.006},{"x":109,"y":73,"z":0.006},{"x":110,"y":73,"z":0.004},{"x":111,"y":73,"z":0.005},{"x":112,"y":73,"z":0.005},{"x":113,"y":73,"z":0.006},{"x":114,"y":73,"z":0.007},{"x":115,"y":73,"z":0.006},
{"x":115,"y":74,"z":0.012},{"x":115,"y":75,"z":0.008},{"x":115,"y":76,"z":0.014},
{"x":114,"y":76,"z":0.012},{"x":113,"y":76,"z":0.01},{"x":112,"y":76,"z":0.008},{"x":111,"y":76,"z":0.007},{"x":110,"y":76,"z":0.011},
{"x":110,"y":77,"z":0.006},{"x":110,"y":78,"z":0.011},{"x":110,"y":79,"z":0.008},
{"x":111,"y":79,"z":0.008},{"x":112,"y":79,"z":0.008},{"x":113,"y":79,"z":0.006},{"x":114,"y":79,"z":0.007},{"x":115,"y":79,"z":0.011},
{"x":115,"y":80,"z":0.01},{"x":115,"y":81,"z":0.008},{"x":115,"y":82,"z":0.012},
{"x":114,"y":82,"z":0.008},{"x":113,"y":82,"z":0.012},{"x":112,"y":82,"z":0.006},{"x":111,"y":82,"z":0.008},{"x":110,"y":82,"z":0.006},{"x":109,"y":82,"z":0.006},{"x":108,"y":82,"z":0.007},{"x":107,"y":82,"z":0.007},{"x":106,"y":82,"z":0.006},{"x":105,"y":82,"z":0.008},
{"x":105,"y":83,"z":0.006},{"x":105,"y":84,"z":0.006},{"x":105,"y":85,"z":0.012},
{"x":106,"y":85,"z":0.007},{"x":107,"y":85,"z":0.007},{"x":108,"y":85,"z":0.006},{"x":109,"y":85,"z":0.005},{"x":110,"y":85,"z":0.004},{"x":111,"y":85,"z":0.004},{"x":112,"y":85,"z":0.004},{"x":113,"y":85,"z":0.004},{"x":114,"y":85,"z":0.002},{"x":115,"y":85,"z":0.002},
{"x":115,"y":86,"z":0.002},{"x":115,"y":87,"z":0.005},{"x":115,"y":88,"z":0.012},
{"x":114,"y":88,"z":0.01},{"x":113,"y":88,"z":0.008},{"x":112,"y":88,"z":0.004},{"x":111,"y":88,"z":0.004},{"x":110,"y":88,"z":0.002},
{"x":110,"y":89,"z":0.002},{"x":110,"y":90,"z":0.002},{"x":110,"y":91,"z":0.002},
{"x":111,"y":91,"z":0.002},{"x":112,"y":91,"z":0.002},{"x":113,"y":91,"z":0.002},{"x":114,"y":91,"z":0.002},{"x":115,"y":91,"z":0.002},
{"x":115,"y":92,"z":0.002},{"x":115,"y":93,"z":0.002},{"x":115,"y":94,"z":0.002},
{"x":114,"y":94,"z":0.006},{"x":113,"y":94,"z":0.004},{"x":112,"y":94,"z":0.008},{"x":111,"y":94,"z":0.005},{"x":110,"y":94,"z":0.003},{"x":109,"y":94,"z":0.003},{"x":108,"y":94,"z":0.003},{"x":107,"y":94,"z":0.002},{"x":106,"y":94,"z":0.002},{"x":105,"y":94,"z":0.002},
{"x":105,"y":93,"z":0.002},{"x":105,"y":92,"z":0.002},{"x":105,"y":91,"z":0.006},
{"x":104,"y":91,"z":0.004},{"x":103,"y":91,"z":0.003},{"x":102,"y":91,"z":0.002},{"x":101,"y":91,"z":0.002},
{"x":101,"y":92,"z":0.003},{"x":101,"y":93,"z":0.003},{"x":101,"y":94,"z":0.003},
{"x":100,"y":94,"z":0.003},{"x":99,"y":94,"z":0.003},{"x":98,"y":94,"z":0.003},{"x":97,"y":94,"z":0.002},{"x":96,"y":94,"z":0.002},{"x":95,"y":94,"z":0.003},{"x":94,"y":94,"z":0.002},{"x":93,"y":94,"z":0.005},{"x":92,"y":94,"z":0.01},
{"x":92,"y":93,"z":0.012},{"x":92,"y":92,"z":0.013},{"x":92,"y":91,"z":0.012},
{"x":93,"y":91,"z":0.012},{"x":94,"y":91,"z":0.01},{"x":95,"y":91,"z":0.003},{"x":96,"y":91,"z":0.004},
{"x":96,"y":90,"z":0.004},{"x":96,"y":89,"z":0.004},{"x":96,"y":88,"z":0.002},{"x":96,"y":87,"z":0.002},{"x":96,"y":86,"z":0.008},{"x":96,"y":85,"z":0.005},
{"x":95,"y":85,"z":0.002},{"x":94,"y":85,"z":0.002},{"x":93,"y":85,"z":0.003},{"x":92,"y":85,"z":0.012},
{"x":92,"y":86,"z":0.014},{"x":92,"y":87,"z":0.012},{"x":92,"y":88,"z":0.014},
{"x":91,"y":88,"z":0.012},{"x":90,"y":88,"z":0.012},{"x":89,"y":88,"z":0.014},{"x":88,"y":88,"z":0.013},{"x":87,"y":88,"z":0.012},
{"x":87,"y":87,"z":0.002},{"x":87,"y":86,"z":0.002},{"x":87,"y":85,"z":0.002},
{"x":86,"y":85,"z":0.002},{"x":85,"y":85,"z":0.002},{"x":84,"y":85,"z":0.003},{"x":83,"y":85,"z":0.002},{"x":82,"y":85,"z":0.002},
{"x":82,"y":86,"z":0.004},{"x":82,"y":87,"z":0.002},{"x":82,"y":88,"z":0.004},{"x":82,"y":89,"z":0.004},{"x":82,"y":90,"z":0.003},{"x":82,"y":91,"z":0.003},
{"x":83,"y":91,"z":0.002},{"x":84,"y":91,"z":0.002},{"x":85,"y":91,"z":0.002},{"x":86,"y":91,"z":0.002},{"x":87,"y":91,"z":0.002},
{"x":87,"y":92,"z":0.01},{"x":87,"y":93,"z":0.002},{"x":87,"y":94,"z":0.002},
{"x":86,"y":94,"z":0.002},{"x":85,"y":94,"z":0.002},{"x":84,"y":94,"z":0.002},{"x":83,"y":94,"z":0.002},{"x":82,"y":94,"z":0.003},
{"x":82,"y":95,"z":0.004},{"x":82,"y":96,"z":0.003},{"x":82,"y":97,"z":0.002},
{"x":83,"y":97,"z":0.002},{"x":84,"y":97,"z":0.002},{"x":85,"y":97,"z":0.002},{"x":86,"y":97,"z":0.004},{"x":87,"y":97,"z":0.003},
{"x":87,"y":98,"z":0.01},{"x":87,"y":99,"z":0.014},{"x":87,"y":100,"z":0.013},
{"x":86,"y":100,"z":0.012},{"x":85,"y":100,"z":0.01},{"x":84,"y":100,"z":0.002},{"x":83,"y":100,"z":0.006},{"x":82,"y":100,"z":0.007},
{"x":82,"y":101,"z":0.014},{"x":82,"y":102,"z":0.01},{"x":82,"y":103,"z":0.006},{"x":82,"y":104,"z":0.002},{"x":82,"y":105,"z":0.002},{"x":82,"y":106,"z":0.003},
{"x":83,"y":106,"z":0.01},{"x":84,"y":106,"z":0.018},{"x":85,"y":106,"z":0.012},{"x":86,"y":106,"z":0.012},{"x":87,"y":106,"z":0.016},
{"x":87,"y":105,"z":0.016},{"x":87,"y":104,"z":0.012},{"x":87,"y":103,"z":0.015},
{"x":88,"y":103,"z":0.006},{"x":89,"y":103,"z":0.012},{"x":90,"y":103,"z":0.016},{"x":91,"y":103,"z":0.01},{"x":92,"y":103,"z":0.006},
{"x":92,"y":104,"z":0.012},{"x":92,"y":105,"z":0.012},{"x":92,"y":106,"z":0.004},
{"x":93,"y":106,"z":0.008},{"x":94,"y":106,"z":0.014},{"x":95,"y":106,"z":0.012},{"x":96,"y":106,"z":0.012},
{"x":96,"y":105,"z":0.012},{"x":96,"y":104,"z":0.014},{"x":96,"y":103,"z":0.014},{"x":96,"y":102,"z":0.012},{"x":96,"y":101,"z":0.004},{"x":96,"y":100,"z":0.003},
{"x":95,"y":100,"z":0.003},{"x":94,"y":100,"z":0.012},{"x":93,"y":100,"z":0.003},{"x":92,"y":100,"z":0.013},
{"x":92,"y":99,"z":0.014},{"x":92,"y":98,"z":0.006},{"x":92,"y":97,"z":0.014},
{"x":93,"y":97,"z":0.015},{"x":94,"y":97,"z":0.015},{"x":95,"y":97,"z":0.015},{"x":96,"y":97,"z":0.014},{"x":97,"y":97,"z":0.006},{"x":98,"y":97,"z":0.004},{"x":99,"y":97,"z":0.005},{"x":100,"y":97,"z":0.004},{"x":101,"y":97,"z":0.002},
{"x":101,"y":98,"z":0.002},{"x":101,"y":99,"z":0.002},{"x":101,"y":100,"z":0.002},
{"x":102,"y":100,"z":0.002},{"x":103,"y":100,"z":0.004},{"x":104,"y":100,"z":0.008},{"x":105,"y":100,"z":0.012},
{"x":105,"y":99,"z":0.002},{"x":105,"y":98,"z":0.002},{"x":105,"y":97,"z":0.002},
{"x":106,"y":97,"z":0.002},{"x":107,"y":97,"z":0.002},{"x":108,"y":97,"z":0.002},{"x":109,"y":97,"z":0.003},{"x":110,"y":97,"z":0.002},{"x":111,"y":97,"z":0.002},{"x":112,"y":97,"z":0.002},{"x":113,"y":97,"z":0.002},{"x":114,"y":97,"z":0.002},{"x":115,"y":97,"z":0.002},
{"x":115,"y":98,"z":0.002},{"x":115,"y":99,"z":0.002},{"x":115,"y":100,"z":0.002},
{"x":114,"y":100,"z":0.002},{"x":113,"y":100,"z":0.002},{"x":112,"y":100,"z":0.002},{"x":111,"y":100,"z":0.002},{"x":110,"y":100,"z":0.002},
{"x":110,"y":101,"z":0.002},{"x":110,"y":102,"z":0.002},{"x":110,"y":103,"z":0.002},
{"x":111,"y":103,"z":0.004},{"x":112,"y":103,"z":0.004},{"x":113,"y":103,"z":0.004},{"x":114,"y":103,"z":0.004},{"x":115,"y":103,"z":0.012},
{"x":115,"y":104,"z":0.012},{"x":115,"y":105,"z":0.008},{"x":115,"y":106,"z":0.002},
{"x":114,"y":106,"z":0.002},{"x":113,"y":106,"z":0.002},{"x":112,"y":106,"z":0.005},{"x":111,"y":106,"z":0.002},{"x":110,"y":106,"z":0.002},{"x":109,"y":106,"z":0.002},{"x":108,"y":106,"z":0.006},{"x":107,"y":106,"z":0.004},{"x":106,"y":106,"z":0.004},{"x":105,"y":106,"z":0.004},
{"x":105,"y":105,"z":0.002},{"x":105,"y":104,"z":0.002},{"x":105,"y":103,"z":0.002},
{"x":104,"y":103,"z":0.002},{"x":103,"y":103,"z":0.002},{"x":102,"y":103,"z":0.002},{"x":101,"y":103,"z":0.002},
{"x":101,"y":104,"z":0.002},{"x":101,"y":105,"z":0.002},{"x":101,"y":106,"z":0.014},{"x":101,"y":107,"z":0.016},{"x":101,"y":108,"z":0.008},{"x":101,"y":109,"z":0.004},{"x":101,"y":110,"z":0.016},{"x":101,"y":111,"z":0.008},{"x":101,"y":112,"z":0.02},
{"x":102,"y":112,"z":0.012},{"x":103,"y":112,"z":0.002},{"x":104,"y":112,"z":0.002},{"x":105,"y":112,"z":0.003},
{"x":105,"y":111,"z":0.002},{"x":105,"y":110,"z":0.002},{"x":105,"y":109,"z":0.002},
{"x":106,"y":109,"z":0.002},{"x":107,"y":109,"z":0.002},{"x":108,"y":109,"z":0.002},{"x":109,"y":109,"z":0.002},{"x":110,"y":109,"z":0.006},{"x":111,"y":109,"z":0.006},{"x":112,"y":109,"z":0.01},{"x":113,"y":109,"z":0.002},{"x":114,"y":109,"z":0.002},{"x":115,"y":109,"z":0.002},
{"x":115,"y":110,"z":0.002},{"x":115,"y":111,"z":0.002},{"x":115,"y":112,"z":0.002},
{"x":114,"y":112,"z":0.002},{"x":113,"y":112,"z":0.002},{"x":112,"y":112,"z":0.004},{"x":111,"y":112,"z":0.002},{"x":110,"y":112,"z":0.012},
{"x":110,"y":113,"z":0.006},{"x":110,"y":114,"z":0.002},{"x":110,"y":115,"z":0.002},
{"x":111,"y":115,"z":0.002},{"x":112,"y":115,"z":0.002},{"x":113,"y":115,"z":0.002},{"x":114,"y":115,"z":0.004},{"x":115,"y":115,"z":0.012},
{"x":115,"y":116,"z":0.002},{"x":115,"y":117,"z":0.002},{"x":115,"y":118,"z":0.002},
{"x":114,"y":118,"z":0.002},{"x":113,"y":118,"z":0.002},{"x":112,"y":118,"z":0.003},{"x":111,"y":118,"z":0.003},{"x":110,"y":118,"z":0.013},{"x":109,"y":118,"z":0.016},{"x":108,"y":118,"z":0.018},{"x":107,"y":118,"z":0.024},{"x":106,"y":118,"z":0.026},{"x":105,"y":118,"z":0.005},
{"x":105,"y":117,"z":0.002},{"x":105,"y":116,"z":0.002},{"x":105,"y":115,"z":0.008},
{"x":104,"y":115,"z":0.004},{"x":103,"y":115,"z":0.006},{"x":102,"y":115,"z":0.003},{"x":101,"y":115,"z":0.008},
{"x":101,"y":116,"z":0.006},{"x":101,"y":117,"z":0.018},{"x":101,"y":118,"z":0.028},
{"x":100,"y":118,"z":0.002},{"x":99,"y":118,"z":0.032},{"x":98,"y":118,"z":0.03},{"x":97,"y":118,"z":0.036},{"x":96,"y":118,"z":0.026},{"x":95,"y":118,"z":0.036},{"x":94,"y":118,"z":0.026},{"x":93,"y":118,"z":0.045},{"x":92,"y":118,"z":0.006},
{"x":92,"y":117,"z":0.002},{"x":92,"y":116,"z":0.002},{"x":92,"y":115,"z":0.002},
{"x":93,"y":115,"z":0.002},{"x":94,"y":115,"z":0.016},{"x":95,"y":115,"z":0.018},{"x":96,"y":115,"z":0.004},
{"x":96,"y":114,"z":0.002},{"x":96,"y":113,"z":0.016},{"x":96,"y":112,"z":0.018},{"x":96,"y":111,"z":0.019},{"x":96,"y":110,"z":0.016},{"x":96,"y":109,"z":0.016},
{"x":95,"y":109,"z":0.002},{"x":94,"y":109,"z":0.018},{"x":93,"y":109,"z":0.002},{"x":92,"y":109,"z":0.018},
{"x":92,"y":110,"z":0.002},{"x":92,"y":111,"z":0.002},{"x":92,"y":112,"z":0.002},
{"x":91,"y":112,"z":0.002},{"x":90,"y":112,"z":0.005},{"x":89,"y":112,"z":0.002},{"x":88,"y":112,"z":0.002},
{"x":87,"y":112,"z":0.025},{"x":87,"y":111,"z":0.013},{"x":87,"y":110,"z":0.024},{"x":87,"y":109,"z":0.002},
{"x":86,"y":109,"z":0.022},{"x":85,"y":109,"z":0.02},{"x":84,"y":109,"z":0.024},{"x":83,"y":109,"z":0.027},{"x":82,"y":109,"z":0.018},
{"x":82,"y":110,"z":0.02},{"x":82,"y":111,"z":0.025},{"x":82,"y":112,"z":0.012},{"x":82,"y":113,"z":0.014},{"x":82,"y":114,"z":0.02},{"x":82,"y":115,"z":0.025},
{"x":83,"y":115,"z":0.025},{"x":84,"y":115,"z":0.025},{"x":85,"y":115,"z":0.03},{"x":86,"y":115,"z":0.033},{"x":87,"y":115,"z":0.04},
{"x":87,"y":116,"z":0.046},{"x":87,"y":117,"z":0.019},{"x":87,"y":118,"z":0.058},
{"x":86,"y":118,"z":0.062},{"x":85,"y":118,"z":0.065},{"x":84,"y":118,"z":0.07},{"x":83,"y":118,"z":0.074},{"x":82,"y":118,"z":0.033},{"x":81,"y":118,"z":0.03},{"x":80,"y":118,"z":0.027},{"x":79,"y":118,"z":0.024},{"x":78,"y":118,"z":0.003},
{"x":77,"y":118,"z":0.034},{"x":77,"y":117,"z":0.03},{"x":77,"y":116,"z":0.024},{"x":77,"y":115,"z":0.019},
{"x":76,"y":115,"z":0.02},{"x":75,"y":116,"z":0.017},{"x":75,"y":115,"z":0.028},{"x":74,"y":115,"z":0.03},{"x":73,"y":115,"z":0.04},{"x":73,"y":116,"z":0.042},{"x":73,"y":117,"z":0.02},{"x":73,"y":118,"z":0.059},
{"x":72,"y":118,"z":0.016},{"x":71,"y":118,"z":0.057},{"x":70,"y":118,"z":0.053},{"x":69,"y":118,"z":0.005},{"x":68,"y":118,"z":0.004},{"x":67,"y":118,"z":0.002},{"x":66,"y":118,"z":0.002},{"x":65,"y":118,"z":0.002},
{"x":64,"y":118,"z":0.038},{"x":64,"y":117,"z":0.032},{"x":63,"y":115,"z":0.006},{"x":65,"y":115,"z":0.03},{"x":66,"y":115,"z":0.006},{"x":67,"y":115,"z":0.026},{"x":68,"y":115,"z":0.022},
{"x":68,"y":114,"z":0.002},{"x":68,"y":113,"z":0.002},{"x":68,"y":112,"z":0.002},
{"x":67,"y":112,"z":0.01},{"x":66,"y":112,"z":0.002},{"x":65,"y":112,"z":0.002},{"x":64,"y":112,"z":0.002},
{"x":63,"y":112,"z":0.017},{"x":63,"y":111,"z":0.016},{"x":63,"y":110,"z":0.015},{"x":63,"y":109,"z":0.013},
{"x":64,"y":109,"z":0.005},{"x":65,"y":109,"z":0.012},{"x":66,"y":109,"z":0.005},{"x":67,"y":109,"z":0.014},{"x":68,"y":109,"z":0.002},{"x":69,"y":109,"z":0.009},{"x":70,"y":109,"z":0.006},{"x":71,"y":109,"z":0.003},{"x":72,"y":109,"z":0.002},{"x":73,"y":109,"z":0.002},
{"x":73,"y":110,"z":0.02},{"x":73,"y":111,"z":0.01},{"x":73,"y":112,"z":0.025},
{"x":74,"y":112,"z":0.025},{"x":75,"y":112,"z":0.025},{"x":76,"y":112,"z":0.03},{"x":77,"y":112,"z":0.033},{"x":78,"y":112,"z":0.025},
{"x":78,"y":111,"z":0.021},{"x":77,"y":110,"z":0.018},{"x":77,"y":109,"z":0.017},{"x":77,"y":108,"z":0.018},{"x":77,"y":107,"z":0.012},{"x":77,"y":106,"z":0.002},
{"x":76,"y":106,"z":0.01},{"x":75,"y":106,"z":0.017},{"x":74,"y":106,"z":0.015},{"x":73,"y":106,"z":0.011},
{"x":73,"y":105,"z":0.016},{"x":73,"y":104,"z":0.015},{"x":73,"y":103,"z":0.018},
{"x":74,"y":103,"z":0.002},{"x":75,"y":103,"z":0.003},{"x":76,"y":103,"z":0.012},{"x":77,"y":103,"z":0.012},{"x":78,"y":103,"z":0.012},
{"x":78,"y":102,"z":0.012},{"x":78,"y":101,"z":0.002},{"x":78,"y":100,"z":0.002},{"x":78,"y":99,"z":0.012},{"x":78,"y":98,"z":0.003},{"x":78,"y":97,"z":0.002},
{"x":77,"y":97,"z":0.003},{"x":76,"y":97,"z":0.002},{"x":75,"y":97,"z":0.003},{"x":74,"y":97,"z":0.002},{"x":73,"y":97,"z":0.012},
{"x":73,"y":98,"z":0.002},{"x":73,"y":99,"z":0.002},{"x":73,"y":100,"z":0.012},
{"x":72,"y":100,"z":0.01},{"x":71,"y":100,"z":0.008},{"x":70,"y":100,"z":0.012},{"x":69,"y":100,"z":0.012},{"x":68,"y":100,"z":0.014},
{"x":68,"y":99,"z":0.012},{"x":68,"y":98,"z":0.012},{"x":68,"y":97,"z":0.014},
{"x":67,"y":97,"z":0.013},{"x":66,"y":97,"z":0.012},{"x":65,"y":97,"z":0.014},{"x":64,"y":97,"z":0.012},
{"x":64,"y":98,"z":0.01},{"x":64,"y":99,"z":0.004},{"x":64,"y":100,"z":0.014},{"x":64,"y":101,"z":0.008},{"x":64,"y":102,"z":0.01},{"x":64,"y":103,"z":0.007},
{"x":65,"y":103,"z":0.012},{"x":66,"y":103,"z":0.014},{"x":67,"y":103,"z":0.002},{"x":68,"y":103,"z":0.004},
{"x":68,"y":104,"z":0.012},{"x":68,"y":105,"z":0.006},{"x":68,"y":106,"z":0.004},
{"x":67,"y":106,"z":0.006},{"x":66,"y":106,"z":0.004},{"x":65,"y":106,"z":0.012},{"x":64,"y":106,"z":0.002},{"x":63,"y":106,"z":0.004},{"x":62,"y":106,"z":0.002},{"x":61,"y":106,"z":0.003},{"x":60,"y":106,"z":0.004},{"x":59,"y":106,"z":0.002},{"x":58,"y":106,"z":0.002},{"x":57,"y":106,"z":0.005},{"x":56,"y":106,"z":0.002},{"x":55,"y":106,"z":0.002},{"x":54,"y":106,"z":0.002},
{"x":54,"y":105,"z":0.002},{"x":54,"y":104,"z":0.002},{"x":54,"y":103,"z":0.002},
{"x":55,"y":103,"z":0.002},{"x":56,"y":103,"z":0.004},{"x":57,"y":103,"z":0.004},{"x":58,"y":103,"z":0.004},{"x":59,"y":103,"z":0.004},
{"x":59,"y":102,"z":0.006},{"x":59,"y":101,"z":0.002},{"x":59,"y":100,"z":0.004},{"x":59,"y":99,"z":0.002},{"x":59,"y":98,"z":0.002},{"x":59,"y":97,"z":0.003},
{"x":58,"y":97,"z":0.002},{"x":57,"y":97,"z":0.002},{"x":56,"y":97,"z":0.002},{"x":55,"y":97,"z":0.002},{"x":54,"y":97,"z":0.002},
{"x":54,"y":98,"z":0.002},{"x":54,"y":99,"z":0.002},{"x":54,"y":100,"z":0.002},
{"x":53,"y":100,"z":0.004},{"x":52,"y":100,"z":0.002},{"x":51,"y":100,"z":0.002},{"x":50,"y":100,"z":0.003},
{"x":50,"y":99,"z":0.002},{"x":50,"y":98,"z":0.008},{"x":50,"y":97,"z":0.002},
{"x":49,"y":97,"z":0.002},{"x":48,"y":97,"z":0.002},{"x":47,"y":97,"z":0.002},{"x":46,"y":97,"z":0.005},{"x":45,"y":97,"z":0.006},
{"x":45,"y":98,"z":0.005},{"x":45,"y":99,"z":0.008},{"x":45,"y":100,"z":0.004},{"x":45,"y":101,"z":0.002},{"x":45,"y":102,"z":0.004},{"x":45,"y":103,"z":0.01},
{"x":46,"y":103,"z":0.004},{"x":47,"y":103,"z":0.002},{"x":48,"y":103,"z":0.002},{"x":49,"y":103,"z":0.002},{"x":50,"y":103,"z":0.002},
{"x":50,"y":104,"z":0.002},{"x":50,"y":105,"z":0.002},{"x":50,"y":106,"z":0.002},
{"x":49,"y":106,"z":0.002},{"x":48,"y":106,"z":0.002},{"x":47,"y":106,"z":0.002},{"x":46,"y":106,"z":0.002},{"x":45,"y":106,"z":0.003},
{"x":45,"y":107,"z":0.002},{"x":45,"y":108,"z":0.002},{"x":45,"y":109,"z":0.002},{"x":45,"y":110,"z":0.002},{"x":45,"y":111,"z":0.002},{"x":45,"y":112,"z":0.002},
{"x":46,"y":112,"z":0.002},{"x":47,"y":112,"z":0.004},{"x":48,"y":112,"z":0.002},{"x":49,"y":112,"z":0.014},
{"x":50,"y":111,"z":0.013},{"x":50,"y":110,"z":0.014},{"x":50,"y":109,"z":0.006},
{"x":51,"y":109,"z":0.012},{"x":52,"y":109,"z":0.012},{"x":53,"y":109,"z":0.006},{"x":54,"y":109,"z":0.002},{"x":55,"y":109,"z":0.002},{"x":56,"y":109,"z":0.002},{"x":57,"y":109,"z":0.002},{"x":58,"y":109,"z":0.002},{"x":59,"y":109,"z":0.003},
{"x":59,"y":110,"z":0.014},{"x":59,"y":111,"z":0.012},{"x":59,"y":112,"z":0.012},
{"x":58,"y":112,"z":0.004},{"x":57,"y":112,"z":0.005},{"x":56,"y":112,"z":0.003},{"x":55,"y":112,"z":0.006},{"x":54,"y":112,"z":0.002},
{"x":54,"y":113,"z":0.002},{"x":54,"y":114,"z":0.005},{"x":54,"y":115,"z":0.008},
{"x":55,"y":115,"z":0.005},{"x":56,"y":115,"z":0.003},{"x":57,"y":115,"z":0.003},{"x":58,"y":115,"z":0.004},{"x":59,"y":115,"z":0.002},
{"x":59,"y":116,"z":0.005},{"x":59,"y":117,"z":0.015},{"x":59,"y":118,"z":0.024},
{"x":58,"y":118,"z":0.006},{"x":57,"y":118,"z":0.012},{"x":56,"y":118,"z":0.013},{"x":55,"y":118,"z":0.015},{"x":54,"y":118,"z":0.013},{"x":53,"y":118,"z":0.012},{"x":52,"y":118,"z":0.012},{"x":51,"y":118,"z":0.012},{"x":50,"y":118,"z":0.01},
{"x":50,"y":117,"z":0.016},{"x":50,"y":116,"z":0.002},{"x":50,"y":115,"z":0.002},
{"x":49,"y":115,"z":0.002},{"x":48,"y":115,"z":0.002},{"x":47,"y":115,"z":0.003},{"x":46,"y":115,"z":0.002},{"x":45,"y":115,"z":0.006}
]},
"layer":[
{"data":{"name":"frame"},"transform":[{"calculate":"300+(datum.x-50)*14.07+(datum.y-41.7)*15.9","as":"px"},{"calculate":"806+(datum.x-50)*6.6-(datum.y-41.7)*4.97-datum.z*1133","as":"py"},{"calculate":"300+(datum.x2-50)*14.07+(datum.y2-41.7)*15.9","as":"px2"},{"calculate":"806+(datum.x2-50)*6.6-(datum.y2-41.7)*4.97-datum.z2*1133","as":"py2"}],
"mark":{"type":"rule","color":"#555555","strokeWidth":1.6},
"encoding":{"x":{"field":"px","type":"quantitative","scale":{"domain":[0,2689],"nice":false,"zero":false},"axis":null},"y":{"field":"py","type":"quantitative","scale":{"domain":[1302,0],"nice":false,"zero":false},"axis":null},"x2":{"field":"px2"},"y2":{"field":"py2"}}},
{"data":{"name":"labels"},"transform":[{"calculate":"300+(datum.x-50)*14.07+(datum.y-41.7)*15.9","as":"px"},{"calculate":"806+(datum.x-50)*6.6-(datum.y-41.7)*4.97-datum.z*1133","as":"py"}],
"mark":{"type":"text","font":"Liberation Sans","fontSize":30,"color":"#404040","align":"center","baseline":"middle"},
"encoding":{"x":{"field":"px","type":"quantitative","axis":null},"y":{"field":"py","type":"quantitative","axis":null},"text":{"field":"t"}}},
{"data":{"name":"zlabels"},"transform":[{"calculate":"300+(datum.x-50)*14.07+(datum.y-41.7)*15.9","as":"px"},{"calculate":"806+(datum.x-50)*6.6-(datum.y-41.7)*4.97-datum.z*1133","as":"py"}],
"mark":{"type":"text","font":"Liberation Sans","fontSize":30,"color":"#404040","align":"right","baseline":"middle"},
"encoding":{"x":{"field":"px","type":"quantitative","axis":null},"y":{"field":"py","type":"quantitative","axis":null},"text":{"field":"t"}}},
{"data":{"name":"pts"},"transform":[{"calculate":"300+(datum.x-50)*14.07+(datum.y-41.7)*15.9","as":"px"},{"calculate":"806+(datum.x-50)*6.6-(datum.y-41.7)*4.97","as":"py"},{"calculate":"datum.py-datum.z*1133","as":"top"},{"calculate":"datum.px-7.5","as":"xl"},{"calculate":"datum.px+7.5","as":"xr"}],
"encoding":{"fill":{"field":"z","type":"quantitative","scale":{"domain":[0.0005,0.008,0.015,0.0255,0.032,0.036,0.042,0.0485,0.056,0.0625,0.069,0.075,0.3],"range":["#3d2ba0","#4340d8","#4a55f8","#2a85ee","#1ba8e0","#00bcc8","#2fc8a0","#60cc70","#b0c040","#f8b030","#f8d838","#f8f810","#f8f810"]},
"legend":{"type":"gradient","orient":"none","legendX":2514,"legendY":46,"direction":"vertical","title":null,"gradientLength":1193,"gradientThickness":40,"gradientStrokeColor":"#555555","gradientStrokeWidth":2,"values":[0.05,0.1,0.15,0.2,0.25,0.3],"labelFont":"Liberation Sans","labelFontSize":26,"labelColor":"#404040","labelOffset":12,"labelOverlap":false,"format":"~g"}}},
"layer":[
{"mark":{"type":"point","shape":"M-1,0A1,0.5,0,1,1,1,0A1,0.5,0,1,1,-1,0Z","filled":true,"size":225,"stroke":"#111111","strokeWidth":1,"opacity":1},
"encoding":{"x":{"field":"px","type":"quantitative","axis":null},"y":{"field":"py","type":"quantitative","axis":null},"order":{"field":"py","type":"quantitative"}}},
{"mark":{"type":"rect","stroke":"#111111","strokeWidth":1},
"encoding":{"x":{"field":"xl","type":"quantitative","axis":null},"x2":{"field":"xr"},"y":{"field":"py","type":"quantitative","axis":null},"y2":{"field":"top"},"order":{"field":"py","type":"quantitative"}}},
{"mark":{"type":"point","shape":"M-1,0A1,0.5,0,1,1,1,0A1,0.5,0,1,1,-1,0Z","filled":true,"size":225,"stroke":"#111111","strokeWidth":1,"opacity":1},
"encoding":{"x":{"field":"px","type":"quantitative","axis":null},"y":{"field":"top","type":"quantitative","axis":null},"order":{"field":"py","type":"quantitative"}}}
]},
{"data":{"values":[{"v":0.05},{"v":0.1},{"v":0.15},{"v":0.2},{"v":0.25}]},"transform":[{"calculate":"1240-datum.v*3980","as":"py"}],
"mark":{"type":"rule","color":"#333333","strokeWidth":1.5},"encoding":{"y":{"field":"py","type":"quantitative","axis":null},"x":{"value":2542},"x2":{"value":2554}}},
{"data":{"values":[{"t":"Points projected on saddle geometry with 99,816 triangles"}]},"mark":{"type":"text","x":1302,"y":136,"font":"Liberation Serif","fontSize":57.5,"color":"black","align":"center","baseline":"alphabetic"},"encoding":{"text":{"field":"t"}}},
{"data":{"values":[{"t":"Absolute Relative Error"}]},"mark":{"type":"text","x":769,"y":297,"font":"DejaVu Serif","fontStyle":"italic","fontSize":51,"color":"black","align":"left","baseline":"alphabetic"},"encoding":{"text":{"field":"t"}}},
{"data":{"values":[{"t":"="}]},"mark":{"type":"text","x":1396,"y":297,"font":"DejaVu Serif","fontSize":45,"color":"black","align":"left","baseline":"alphabetic"},"encoding":{"text":{"field":"t"}}},
{"data":{"values":[{"t":"z"}]},"mark":{"type":"text","x":1470,"y":250,"font":"DejaVu Serif","fontStyle":"italic","fontSize":48,"color":"black","align":"left","baseline":"alphabetic"},"encoding":{"text":{"field":"t"}}},
{"data":{"values":[{"t":"analytical"}]},"mark":{"type":"text","x":1498,"y":262,"font":"DejaVu Serif","fontStyle":"italic","fontSize":43,"color":"black","align":"left","baseline":"alphabetic"},"encoding":{"text":{"field":"t"}}},
{"data":{"values":[{"t":"−"}]},"mark":{"type":"text","x":1728,"y":250,"font":"DejaVu Serif","fontSize":45,"color":"black","align":"left","baseline":"alphabetic"},"encoding":{"text":{"field":"t"}}},
{"data":{"values":[{"t":"z"}]},"mark":{"type":"text","x":1784,"y":250,"font":"DejaVu Serif","fontStyle":"italic","fontSize":48,"color":"black","align":"left","baseline":"alphabetic"},"encoding":{"text":{"field":"t"}}},
{"data":{"values":[{"t":"calculed"}]},"mark":{"type":"text","x":1809,"y":262,"font":"DejaVu Serif","fontStyle":"italic","fontSize":41,"color":"black","align":"left","baseline":"alphabetic"},"encoding":{"text":{"field":"t"}}},
{"data":{"values":[{"x":1461,"x2":1461,"y":200,"y2":270},{"x":1994,"x2":1994,"y":200,"y2":270}]},"mark":{"type":"rule","color":"black","strokeWidth":2.5},"encoding":{"x":{"field":"x","type":"quantitative","axis":null},"x2":{"field":"x2"},"y":{"field":"y","type":"quantitative","axis":null},"y2":{"field":"y2"}}},
{"data":{"values":[{"x":1453,"x2":2003,"y":279,"y2":279}]},"mark":{"type":"rule","color":"black","strokeWidth":3.5},"encoding":{"x":{"field":"x","type":"quantitative","axis":null},"x2":{"field":"x2"},"y":{"field":"y","type":"quantitative","axis":null},"y2":{"field":"y2"}}},
{"data":{"values":[{"t":"z"}]},"mark":{"type":"text","x":1606,"y":333,"font":"DejaVu Serif","fontStyle":"italic","fontSize":48,"color":"black","align":"left","baseline":"alphabetic"},"encoding":{"text":{"field":"t"}}},
{"data":{"values":[{"t":"analytical"}]},"mark":{"type":"text","x":1634,"y":345,"font":"DejaVu Serif","fontStyle":"italic","fontSize":41,"color":"black","align":"left","baseline":"alphabetic"},"encoding":{"text":{"field":"t"}}},
{"data":{"values":[{"t":"100%"}]},"mark":{"type":"text","x":2027,"y":297,"font":"DejaVu Serif","fontSize":50,"color":"black","align":"left","baseline":"alphabetic"},"encoding":{"text":{"field":"t"}}},
{"data":{"values":[{"t":"Absolute Relative Error"}]},"mark":{"type":"text","x":108,"y":813,"angle":270,"font":"Open Sans","fontSize":44,"color":"black","align":"left","baseline":"alphabetic"},"encoding":{"text":{"field":"t"}}},
{"data":{"values":[{"t":"(%)"}]},"mark":{"type":"text","x":108,"y":330,"angle":270,"font":"Open Sans","fontStyle":"italic","fontSize":46,"color":"black","align":"left","baseline":"alphabetic"},"encoding":{"text":{"field":"t"}}},
{"data":{"values":[{"t":"X"}]},"mark":{"type":"text","x":693,"y":1217,"font":"Open Sans","fontSize":44,"color":"black","align":"left","baseline":"alphabetic"},"encoding":{"text":{"field":"t"}}},
{"data":{"values":[{"t":"(mm)"}]},"mark":{"type":"text","x":730,"y":1217,"font":"Open Sans","fontStyle":"italic","fontSize":44,"color":"black","align":"left","baseline":"alphabetic"},"encoding":{"text":{"field":"t"}}},
{"data":{"values":[{"t":"Y"}]},"mark":{"type":"text","x":1655,"y":1230,"font":"Open Sans","fontSize":44,"color":"black","align":"left","baseline":"alphabetic"},"encoding":{"text":{"field":"t"}}},
{"data":{"values":[{"t":"(mm)"}]},"mark":{"type":"text","x":1680,"y":1230,"font":"Open Sans","fontStyle":"italic","fontSize":44,"color":"black","align":"left","baseline":"alphabetic"},"encoding":{"text":{"field":"t"}}}
]}
